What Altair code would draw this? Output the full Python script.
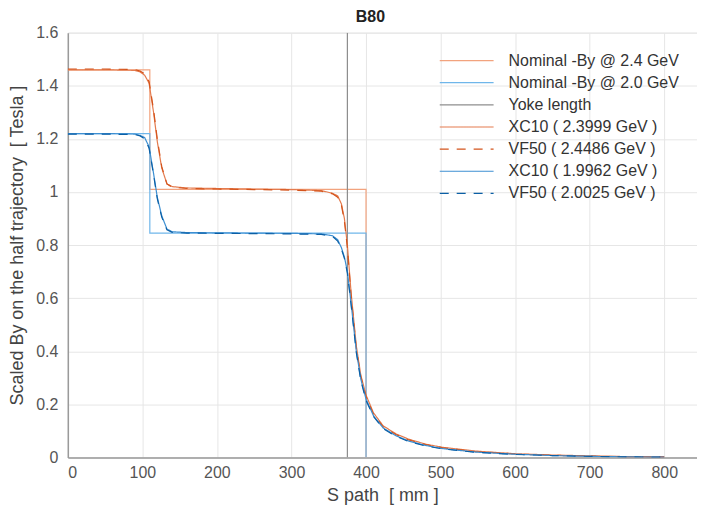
import altair as alt
import pandas as pd

# ---- data ----
SERIES = [
    "Nominal -By @ 2.4 GeV",
    "Nominal -By @ 2.0 GeV",
    "Yoke length",
    "XC10 ( 2.3999 GeV )",
    "VF50 ( 2.4486 GeV )",
    "XC10 ( 1.9962 GeV )",
    "VF50 ( 2.0025 GeV )",
]

NOM_S = [0, 110, 110, 400, 400]
NOM_24 = [1.46, 1.46, 1.01, 1.01, 0.0]
NOM_20 = [1.22, 1.22, 0.845, 0.845, 0.0]

YOKE_S = [375, 375]
YOKE_B = [0.0, 1.6]

S_CURVE = [0, 50, 90, 97, 103, 109, 115, 120, 126, 133, 140, 160, 200, 250, 300,
           340, 355, 362, 367, 371, 375, 380, 387, 393, 400, 410, 423, 440, 457,
           480, 503, 547, 600, 650, 700, 750, 800]
XC10_24 = [1.46, 1.46, 1.458, 1.452, 1.44, 1.41, 1.30, 1.19, 1.09, 1.03, 1.02, 1.015,
           1.013, 1.011, 1.009, 1.005, 0.995, 0.985, 0.955, 0.90, 0.80, 0.62, 0.42,
           0.31, 0.235, 0.168, 0.119, 0.089, 0.069, 0.05, 0.038, 0.024, 0.014, 0.009,
           0.006, 0.003, 0.002]
VF50_24 = [1.463, 1.463, 1.461, 1.455, 1.445, 1.415, 1.31, 1.20, 1.095, 1.03, 1.018,
           1.013, 1.011, 1.009, 1.007, 1.003, 0.993, 0.98, 0.95, 0.89, 0.79, 0.61,
           0.41, 0.305, 0.23, 0.163, 0.115, 0.086, 0.066, 0.048, 0.036, 0.022,
           0.013, 0.008, 0.005, 0.003, 0.002]
XC10_20 = [1.22, 1.22, 1.218, 1.213, 1.205, 1.17, 1.07, 0.98, 0.91, 0.86, 0.85, 0.847,
           0.846, 0.845, 0.844, 0.842, 0.835, 0.82, 0.79, 0.755, 0.70, 0.58, 0.40,
           0.295, 0.22, 0.157, 0.111, 0.082, 0.062, 0.045, 0.033, 0.02, 0.012, 0.007,
           0.004, 0.002, 0.001]
VF50_20 = [1.218, 1.218, 1.216, 1.211, 1.2, 1.165, 1.065, 0.975, 0.905, 0.857, 0.848,
           0.845, 0.844, 0.843, 0.842, 0.84, 0.833, 0.815, 0.785, 0.75, 0.695, 0.575,
           0.395, 0.29, 0.215, 0.154, 0.108, 0.08, 0.06, 0.043, 0.032, 0.019, 0.011,
           0.007, 0.004, 0.002, 0.001]

X_TICKS = [0, 100, 200, 300, 400, 500, 600, 700, 800]
Y_TICKS = [0, 0.2, 0.4, 0.6, 0.8, 1.0, 1.2, 1.4, 1.6]

COLORS = ["#F2A37E", "#6FB6EA", "#8E8E8E", "#E47B4E", "#D4541C", "#3D8FD2", "#0B5FA5"]
DASHES = [[1, 0], [1, 0], [1, 0], [1, 0], [9, 8], [1, 0], [9, 8]]
WIDTHS = [1.2, 1.2, 2.0, 2.8, 2.8, 2.8, 2.8]

NB = "\u00a0"
X_TITLE = "S path" + NB * 2 + "[ mm ]"
Y_TITLE = "Scaled By on the half trajectory" + NB * 2 + "[ Tesla ]"

# ---- assemble table ----
rows = []
def add(name, xs, ys):
    for i, (x, y) in enumerate(zip(xs, ys)):
        rows.append({"series": name, "s": x, "B": y, "order": i})

add(SERIES[0], NOM_S, NOM_24)
add(SERIES[1], NOM_S, NOM_20)
add(SERIES[2], YOKE_S, YOKE_B)
add(SERIES[3], S_CURVE, XC10_24)
add(SERIES[4], S_CURVE, VF50_24)
add(SERIES[5], S_CURVE, XC10_20)
add(SERIES[6], S_CURVE, VF50_20)
df = pd.DataFrame(rows)

FONT = "Liberation Sans"
legend = alt.Legend(
    title=None, orient="none", legendX=368, legendY=18,
    symbolType="M-4.5,0H4.5", symbolSize=144, symbolOffset=22, labelOffset=34,
    labelFont=FONT, labelFontSize=16, labelColor="#333", rowPadding=6.2, padding=2,
    labelLimit=300,
)

chart = alt.Chart(df).mark_line(clip=True).encode(
    x=alt.X("s:Q", scale=alt.Scale(domain=[0, 844], nice=False),
            axis=alt.Axis(values=X_TICKS, title=X_TITLE, labelPadding=7,
                          titlePadding=6)),
    y=alt.Y("B:Q", scale=alt.Scale(domain=[0, 1.6], nice=False),
            axis=alt.Axis(values=Y_TICKS, labelExpr="format(datum.value, '~g')",
                          title=Y_TITLE, labelPadding=10, titlePadding=9)),
    color=alt.Color("series:N", scale=alt.Scale(domain=SERIES, range=COLORS), legend=legend),
    strokeDash=alt.StrokeDash("series:N", scale=alt.Scale(domain=SERIES, range=DASHES), legend=legend),
    strokeWidth=alt.StrokeWidth("series:N", scale=alt.Scale(domain=SERIES, range=WIDTHS), legend=legend),
    order="order:Q",
).properties(
    width=631, height=426,
    title=alt.Title("B80", font=FONT, fontSize=16, fontWeight="bold", color="#222",
                    offset=0, dx=-12),
    padding={"left": 0, "top": 0, "right": 0, "bottom": 2},
).configure_axis(
    labelFont=FONT, labelFontSize=16, labelColor="#555",
    titleFont=FONT, titleFontSize=18, titleColor="#444", titleFontWeight="normal",
    grid=True, gridColor="#E6E6E6", ticks=False,
    domainColor="#9A9A9A", domainWidth=1.5,
).configure_view(stroke="#E6E6E6")

chart.save("out.html", embed_options={"renderer": "svg", "actions": False})
